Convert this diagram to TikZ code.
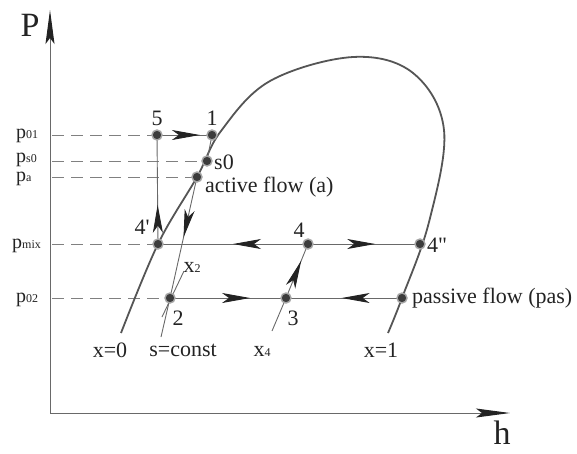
\documentclass[tikz,border=0pt]{standalone}
\usepackage{fontspec}
\setmainfont{Liberation Serif}
\usetikzlibrary{arrows.meta,decorations.markings}
\definecolor{ln}{RGB}{105,105,105}
\definecolor{cv}{RGB}{85,85,85}
\definecolor{dk}{RGB}{35,35,35}
\definecolor{dotc}{RGB}{60,60,60}
\newcommand\mysub[2]{#1{\fontsize{12}{12}\selectfont #2}}
\tikzset{
  thinln/.style={draw=ln, line width=0.9pt},
  dashln/.style={draw=ln!85, line width=1pt, dash pattern=on 12pt off 7pt},
  curveln/.style={draw=cv, line width=1.8pt},
  axisln/.style={draw=ln, line width=1pt, -{Stealth[length=34pt,width=9pt,inset=6pt,color=dk]}},
  midarr/.style={postaction={decorate}, decoration={markings,
     mark=at position #1 with {\arrow{Stealth[length=28pt,width=10pt,inset=7pt,color=dk]}}}},
  dotpt/.style={circle, fill=dotc, draw=gray!70, line width=1.4pt, inner sep=0pt, minimum size=10pt},
  lbl/.style={font=\fontsize{22}{22}\selectfont, text=dk, inner sep=0pt},
  axlbl/.style={font=\fontsize{34}{34}\selectfont, text=dk, inner sep=0pt},
  plbl/.style={font=\fontsize{20}{20}\selectfont, text=dk, inner sep=0pt, anchor=base west},
}
\begin{document}
\begin{tikzpicture}[x=1pt,y=-1pt]
\useasboundingbox (0,0) rectangle (577,453);
% key coordinates
\coordinate (O) at (50,413);
\coordinate (Ytip) at (50,10);
\coordinate (Xtip) at (510,413);
\coordinate (c5) at (157,135);
\coordinate (c1) at (212,135);
\coordinate (cs0) at (207,161);
\coordinate (ca) at (197,177);
\coordinate (c4p) at (158,244);
\coordinate (c4) at (308,244);
\coordinate (c4pp) at (420,244);
\coordinate (c2) at (170,298);
\coordinate (c3) at (286,298);
\coordinate (cpas) at (402,298);
\coordinate (sEnd) at (161,337);
\coordinate (x2a) at (162,317);
\coordinate (x2b) at (184,271);
\coordinate (x4a) at (272,331);
% axis-side dashed ends
\coordinate (y01) at (52,135);
\coordinate (ys0) at (52,161);
\coordinate (ya) at (52,177);
\coordinate (ymix) at (52,244);
\coordinate (y02) at (52,298);

% axes
\draw[axisln] (O) -- (Ytip);
\draw[axisln] (O) -- (Xtip);
\node[axlbl] (P) at (30,25) {P};
\node[axlbl] (h) at (502,433) {h};

% dashed level lines
\draw[dashln] (y01) -- (c5);
\draw[dashln] (ys0) -- (cs0);
\draw[dashln] (ya) -- (ca);
\draw[dashln] (ymix) -- (c4p);
\draw[dashln] (y02) -- (c2);

% level labels
\node[plbl] (l01) at (16,138) {\mysub{p}{01}};
\node[plbl] (ls0) at (16,162) {\mysub{p}{s0}};
\node[plbl] (la) at (16,181) {\mysub{p}{a}};
\node[plbl] (lmix) at (12,248) {\mysub{p}{mix}};
\node[plbl] (l02) at (16,302) {\mysub{p}{02}};

% saturation curve
\draw[curveln] plot[smooth, tension=0.6] coordinates {
 (121,333) (158,244) (197,177) (221,131) (270,81) (353,57)
 (413,73) (444,130) (429,222) (402,298) (388,333)};

% process lines
\draw[thinln, midarr=0.78] (c5) -- (c1);
\draw[thinln] (c1) -- (cs0);
\draw[thinln, midarr=0.5] (ca) -- (c2);
\draw[thinln] (c2) -- (sEnd);
\draw[thinln] (x2a) -- (x2b);
\draw[thinln, midarr=0.36] (c4p) -- (c5);
\draw[thinln, midarr=0.5] (c4) -- (c4p);
\draw[thinln, midarr=0.6] (c4) -- (c4pp);
\draw[thinln, midarr=0.69] (c2) -- (c3);
\draw[thinln, midarr=0.52] (cpas) -- (c3);
\draw[thinln, midarr=0.69] (c3) -- (c4);
\draw[thinln] (c3) -- (x4a);

% state points
\foreach \c/\n in {c5/d5,c1/d1,cs0/ds0,ca/da,c4p/d4p,c4/d4,c4pp/d4pp,c2/d2,c3/d3,cpas/dpas}
  \node[dotpt] (\n) at (\c) {};

% point labels
\node[lbl] (t5) at (157,118) {5};
\node[lbl] (t1) at (212,118) {1};
\node[lbl, anchor=west] (ts0) at (214,162) {s0};
\node[lbl, anchor=base west] (tact) at (205,192) {active flow (a)};
\node[lbl] (t4p) at (142,227) {4\textquotesingle};
\node[lbl] (t4) at (299,230) {4};
\node[lbl, anchor=west] (t4pp) at (427,245) {4\textquotedbl};
\node[lbl] (t2) at (178,318) {2};
\node[lbl] (t3) at (293,318) {3};
\node[lbl, anchor=west] (tpas) at (412,298) {passive flow (pas)};
\node[lbl] (tx0) at (110,350) {x=0};
\node[lbl] (tsc) at (183,350) {s=const};
\node[lbl] (tx4) at (262,351) {\mysub{x}{4}};
\node[lbl] (tx1) at (381,350) {x=1};
\node[lbl] (tx2) at (192,267) {\mysub{x}{2}};
\end{tikzpicture}
\end{document}
